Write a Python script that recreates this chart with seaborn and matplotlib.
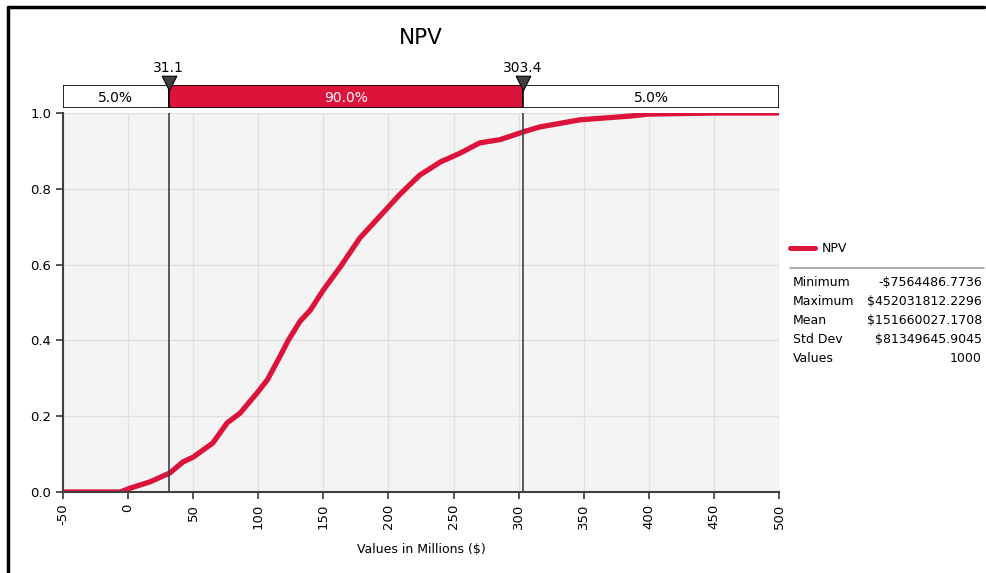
import matplotlib
matplotlib.use("Agg")
import matplotlib.pyplot as plt
import seaborn as sns
from matplotlib.lines import Line2D

# =========================
# Dados
# =========================

npv_values = [-50, -6, 1.5, 17, 32, 42, 50, 65, 76, 86, 99, 107, 117, 123, 132,
              140, 150, 163, 178, 193.5, 209, 224, 240, 255, 270, 286, 303.4,
              316, 347, 386, 399, 452, 500]
cum_prob = [0, 0, 0.01, 0.027, 0.05, 0.079, 0.092, 0.129, 0.182, 0.208, 0.261,
            0.296, 0.36, 0.40, 0.45, 0.48, 0.533, 0.594, 0.67, 0.728, 0.786,
            0.836, 0.871, 0.894, 0.921, 0.93, 0.95, 0.963, 0.982, 0.992,
            0.997, 1.0, 1.0]

x_min, x_max = -50, 500
pct_lo, pct_hi = 31.1, 303.4
pct_labels = ["5.0%", "90.0%", "5.0%"]

stat_names = ["Minimum", "Maximum", "Mean", "Std Dev", "Values"]
stat_values = ["-$7564486.7736", "$452031812.2296", "$151660027.1708",
               "$81349645.9045", "1000"]

red = "#dc143c"
dark = "#404040"

sns.set_theme(style="ticks")
plt.rcParams["font.family"] = ["DejaVu Sans"]
plt.rcParams["axes.unicode_minus"] = False
plt.rcParams["text.color"] = "black"
plt.rcParams["axes.labelcolor"] = "black"
plt.rcParams["xtick.labelcolor"] = "black"
plt.rcParams["ytick.labelcolor"] = "black"

W, H = 986, 573
fig = plt.figure(figsize=(W / 100, H / 100), dpi=100)
fig.patch.set_facecolor("white")


def box(x0, y0, x1, y1):
    # pixel box -> figure fraction
    return [x0 / W, 1 - y1 / H, (x1 - x0) / W, (y1 - y0) / H]


# =========================
# Gráfico principal
# =========================

ax = fig.add_axes(box(63, 113, 779, 492))
ax.set_facecolor("#f4f4f4")
sns.lineplot(x=npv_values, y=cum_prob, ax=ax, color=red, linewidth=3.8,
             estimator=None, sort=False)
ax.set_xlim(x_min, x_max)
ax.set_ylim(0, 1)
ax.set_xticks(range(x_min, x_max + 1, 50))
ax.set_yticks([0, 0.2, 0.4, 0.6, 0.8, 1.0])
ax.set_yticklabels(["0.0", "0.2", "0.4", "0.6", "0.8", "1.0"])
ax.tick_params(axis="x", labelrotation=90, labelsize=9.5, length=5, color=dark)
ax.tick_params(axis="y", labelsize=9.5, length=5, color=dark)
ax.grid(True, color="#e0e0e0", linewidth=1)
for s in ["top", "right"]:
    ax.spines[s].set_visible(False)
for s in ["left", "bottom"]:
    ax.spines[s].set_color(dark)
    ax.spines[s].set_linewidth(1.5)
ax.set_xlabel("Values in Millions ($)", fontsize=9, labelpad=10)
ax.set_ylabel("")
ax.axvline(pct_lo, color=dark, linewidth=1.2)
ax.axvline(pct_hi, color=dark, linewidth=1.2)

# =========================
# Barra de percentis
# =========================

bx = fig.add_axes(box(63, 85, 779, 108))
bx.barh(0.5, pct_lo - x_min, left=x_min, height=1, color="white",
        edgecolor="black", linewidth=1.2)
bx.barh(0.5, pct_hi - pct_lo, left=pct_lo, height=1, color=red,
        edgecolor="black", linewidth=1.2)
bx.barh(0.5, x_max - pct_hi, left=pct_hi, height=1, color="white",
        edgecolor="black", linewidth=1.2)
bx.set_xlim(x_min, x_max)
bx.set_ylim(0, 1)
bx.axis("off")
centers = [(x_min + pct_lo) / 2, (pct_lo + pct_hi) / 2, (pct_hi + x_max) / 2]
for c, lab, col in zip(centers, pct_labels, ["black", "white", "black"]):
    bx.text(c, 0.45, lab, ha="center", va="center", fontsize=10, color=col)
bx.scatter([pct_lo, pct_hi], [1.1, 1.1], marker="v", s=110, color=dark,
           edgecolor="black", linewidth=0.8, clip_on=False, zorder=5)
for v in [pct_lo, pct_hi]:
    bx.text(v, 1.75, f"{v:.1f}", ha="center", va="center", fontsize=10)

fig.text(421 / W, 1 - 38 / H, "NPV", ha="center", va="center", fontsize=15.5)

# =========================
# Legenda e estatísticas
# =========================

fig.add_artist(Line2D([790 / W, 815 / W], [1 - 248 / H] * 2, color=red, lw=3.6))
fig.text(822 / W, 1 - 248 / H, "NPV", ha="left", va="center", fontsize=9)
fig.add_artist(Line2D([790 / W, 984 / W], [1 - 268 / H] * 2, color="#a0a0a0", lw=1.2))
for i, (n, v) in enumerate(zip(stat_names, stat_values)):
    y = 1 - (283 + i * 18.75) / H
    fig.text(793 / W, y, n, ha="left", va="center", fontsize=9)
    fig.text(982 / W, y, v, ha="right", va="center", fontsize=9)

# moldura (esquerda e topo)
fig.add_artist(Line2D([8 / W, 8 / W], [0, 1 - 7 / H], color="black", lw=2.5))
fig.add_artist(Line2D([8 / W, 984 / W], [1 - 7 / H] * 2, color="black", lw=2.5))

fig.savefig("out.png", dpi=100)
